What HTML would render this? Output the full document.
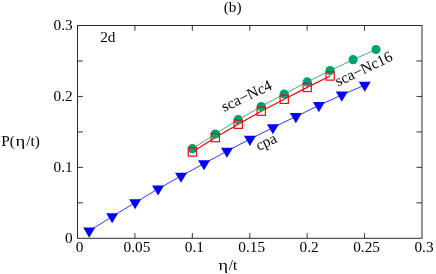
<!DOCTYPE html><html><head><meta charset="utf-8"><style>html,body{margin:0;padding:0;background:#fff;overflow:hidden}svg{display:block;will-change:transform}text{font-family:"Liberation Serif",serif;fill:#000}</style></head><body>
<svg width="436" height="274" viewBox="0 0 436 274">
<rect width="436" height="274" fill="#fff"/>
<rect x="77.5" y="25.5" width="344.5" height="212.8" fill="none" stroke="#2b2b2b" stroke-width="1"/>
<line x1="134.92" y1="238.3" x2="134.92" y2="233.0" stroke="#2b2b2b" stroke-width="0.95"/>
<line x1="134.92" y1="25.5" x2="134.92" y2="30.8" stroke="#2b2b2b" stroke-width="0.95"/>
<line x1="192.33" y1="238.3" x2="192.33" y2="233.0" stroke="#2b2b2b" stroke-width="0.95"/>
<line x1="192.33" y1="25.5" x2="192.33" y2="30.8" stroke="#2b2b2b" stroke-width="0.95"/>
<line x1="249.75" y1="238.3" x2="249.75" y2="233.0" stroke="#2b2b2b" stroke-width="0.95"/>
<line x1="249.75" y1="25.5" x2="249.75" y2="30.8" stroke="#2b2b2b" stroke-width="0.95"/>
<line x1="307.17" y1="238.3" x2="307.17" y2="233.0" stroke="#2b2b2b" stroke-width="0.95"/>
<line x1="307.17" y1="25.5" x2="307.17" y2="30.8" stroke="#2b2b2b" stroke-width="0.95"/>
<line x1="364.58" y1="238.3" x2="364.58" y2="233.0" stroke="#2b2b2b" stroke-width="0.95"/>
<line x1="364.58" y1="25.5" x2="364.58" y2="30.8" stroke="#2b2b2b" stroke-width="0.95"/>
<line x1="77.5" y1="202.83" x2="83.0" y2="202.83" stroke="#2b2b2b" stroke-width="0.95"/>
<line x1="422.0" y1="202.83" x2="416.5" y2="202.83" stroke="#2b2b2b" stroke-width="0.95"/>
<line x1="77.5" y1="167.37" x2="83.0" y2="167.37" stroke="#2b2b2b" stroke-width="0.95"/>
<line x1="422.0" y1="167.37" x2="416.5" y2="167.37" stroke="#2b2b2b" stroke-width="0.95"/>
<line x1="77.5" y1="131.90" x2="83.0" y2="131.90" stroke="#2b2b2b" stroke-width="0.95"/>
<line x1="422.0" y1="131.90" x2="416.5" y2="131.90" stroke="#2b2b2b" stroke-width="0.95"/>
<line x1="77.5" y1="96.43" x2="83.0" y2="96.43" stroke="#2b2b2b" stroke-width="0.95"/>
<line x1="422.0" y1="96.43" x2="416.5" y2="96.43" stroke="#2b2b2b" stroke-width="0.95"/>
<line x1="77.5" y1="60.97" x2="83.0" y2="60.97" stroke="#2b2b2b" stroke-width="0.95"/>
<line x1="422.0" y1="60.97" x2="416.5" y2="60.97" stroke="#2b2b2b" stroke-width="0.95"/>
<text x="79.50" y="251.7" font-size="15.3" text-anchor="middle">0</text>
<text x="136.92" y="251.7" font-size="15.3" text-anchor="middle">0.05</text>
<text x="194.33" y="251.7" font-size="15.3" text-anchor="middle">0.1</text>
<text x="251.75" y="251.7" font-size="15.3" text-anchor="middle">0.15</text>
<text x="309.17" y="251.7" font-size="15.3" text-anchor="middle">0.2</text>
<text x="366.58" y="251.7" font-size="15.3" text-anchor="middle">0.25</text>
<text x="424.00" y="251.7" font-size="15.3" text-anchor="middle">0.3</text>
<text x="72.7" y="242.50" font-size="15.3" text-anchor="end">0</text>
<text x="72.7" y="171.57" font-size="15.3" text-anchor="end">0.1</text>
<text x="72.7" y="100.63" font-size="15.3" text-anchor="end">0.2</text>
<text x="72.7" y="29.70" font-size="15.3" text-anchor="end">0.3</text>
<text x="232.7" y="12.1" font-size="15.3" text-anchor="middle">(b)</text>
<text x="100.2" y="42" font-size="15.3">2d</text>
<text x="1.3" y="146" font-size="15.3">P(</text>
<text transform="translate(15.4,146) scale(1.22,1)" font-size="15.3">η</text>
<text x="26.3" y="146" font-size="15.3">/t)</text>
<text transform="translate(218.5,269.7) scale(1.19,1)" font-size="15.3">η</text>
<text x="228.8" y="269.7" font-size="15.3">/t</text>
<polyline fill="none" stroke="#0000ff" stroke-width="0.8" points="89.18,230.95 112.15,216.65 135.12,202.65 158.08,188.85 181.05,176.10 204.02,163.60 226.98,151.10 249.95,139.20 272.92,127.65 295.88,116.50 318.85,105.45 341.82,94.95 364.78,85.10"/>
<polygon fill="#0000ff" points="83.18,227.55 95.18,227.55 89.18,237.65"/>
<polygon fill="#0000ff" points="106.15,213.25 118.15,213.25 112.15,223.35"/>
<polygon fill="#0000ff" points="129.12,199.25 141.12,199.25 135.12,209.35"/>
<polygon fill="#0000ff" points="152.08,185.45 164.08,185.45 158.08,195.55"/>
<polygon fill="#0000ff" points="175.05,172.70 187.05,172.70 181.05,182.80"/>
<polygon fill="#0000ff" points="198.02,160.20 210.02,160.20 204.02,170.30"/>
<polygon fill="#0000ff" points="220.98,147.70 232.98,147.70 226.98,157.80"/>
<polygon fill="#0000ff" points="243.95,135.80 255.95,135.80 249.95,145.90"/>
<polygon fill="#0000ff" points="266.92,124.25 278.92,124.25 272.92,134.35"/>
<polygon fill="#0000ff" points="289.88,113.10 301.88,113.10 295.88,123.20"/>
<polygon fill="#0000ff" points="312.85,102.05 324.85,102.05 318.85,112.15"/>
<polygon fill="#0000ff" points="335.82,91.55 347.82,91.55 341.82,101.65"/>
<polygon fill="#0000ff" points="358.78,81.70 370.78,81.70 364.78,91.80"/>
<polyline fill="none" stroke="#ff0000" stroke-width="1.2" points="192.40,152.00 215.30,137.60 238.25,124.20 261.25,111.20 284.20,99.30 307.20,87.40 330.10,76.00"/>
<polyline fill="none" stroke="#009e73" stroke-width="0.8" points="192.40,148.70 215.25,134.00 238.20,119.70 261.25,106.50 284.25,94.00 307.20,81.90 330.10,70.60 353.10,59.70 376.00,49.50"/>
<circle cx="192.4" cy="148.7" r="4.6" fill="#009e73"/>
<circle cx="215.25" cy="134.0" r="4.6" fill="#009e73"/>
<circle cx="238.2" cy="119.7" r="4.6" fill="#009e73"/>
<circle cx="261.25" cy="106.5" r="4.6" fill="#009e73"/>
<circle cx="284.25" cy="94.0" r="4.6" fill="#009e73"/>
<circle cx="307.2" cy="81.9" r="4.6" fill="#009e73"/>
<circle cx="330.1" cy="70.6" r="4.6" fill="#009e73"/>
<circle cx="353.1" cy="59.7" r="4.6" fill="#009e73"/>
<circle cx="376.0" cy="49.5" r="4.6" fill="#009e73"/>
<rect x="188.25" y="147.85" width="8.3" height="8.3" fill="none" stroke="#ff0000" stroke-width="1.15"/>
<rect x="211.15" y="133.45" width="8.3" height="8.3" fill="none" stroke="#ff0000" stroke-width="1.15"/>
<rect x="234.10" y="120.05" width="8.3" height="8.3" fill="none" stroke="#ff0000" stroke-width="1.15"/>
<rect x="257.10" y="107.05" width="8.3" height="8.3" fill="none" stroke="#ff0000" stroke-width="1.15"/>
<rect x="280.05" y="95.15" width="8.3" height="8.3" fill="none" stroke="#ff0000" stroke-width="1.15"/>
<rect x="303.05" y="83.25" width="8.3" height="8.3" fill="none" stroke="#ff0000" stroke-width="1.15"/>
<rect x="325.95" y="71.85" width="8.3" height="8.3" fill="none" stroke="#ff0000" stroke-width="1.15"/>
<text transform="translate(224.3,112) rotate(-25.5)" font-size="15.4">sca−Nc4</text>
<text transform="translate(338,86.6) rotate(-25.5)" font-size="15.4">sca−Nc16</text>
<text transform="translate(258.7,151) rotate(-25.5)" font-size="15.4">cpa</text>
</svg></body></html>
